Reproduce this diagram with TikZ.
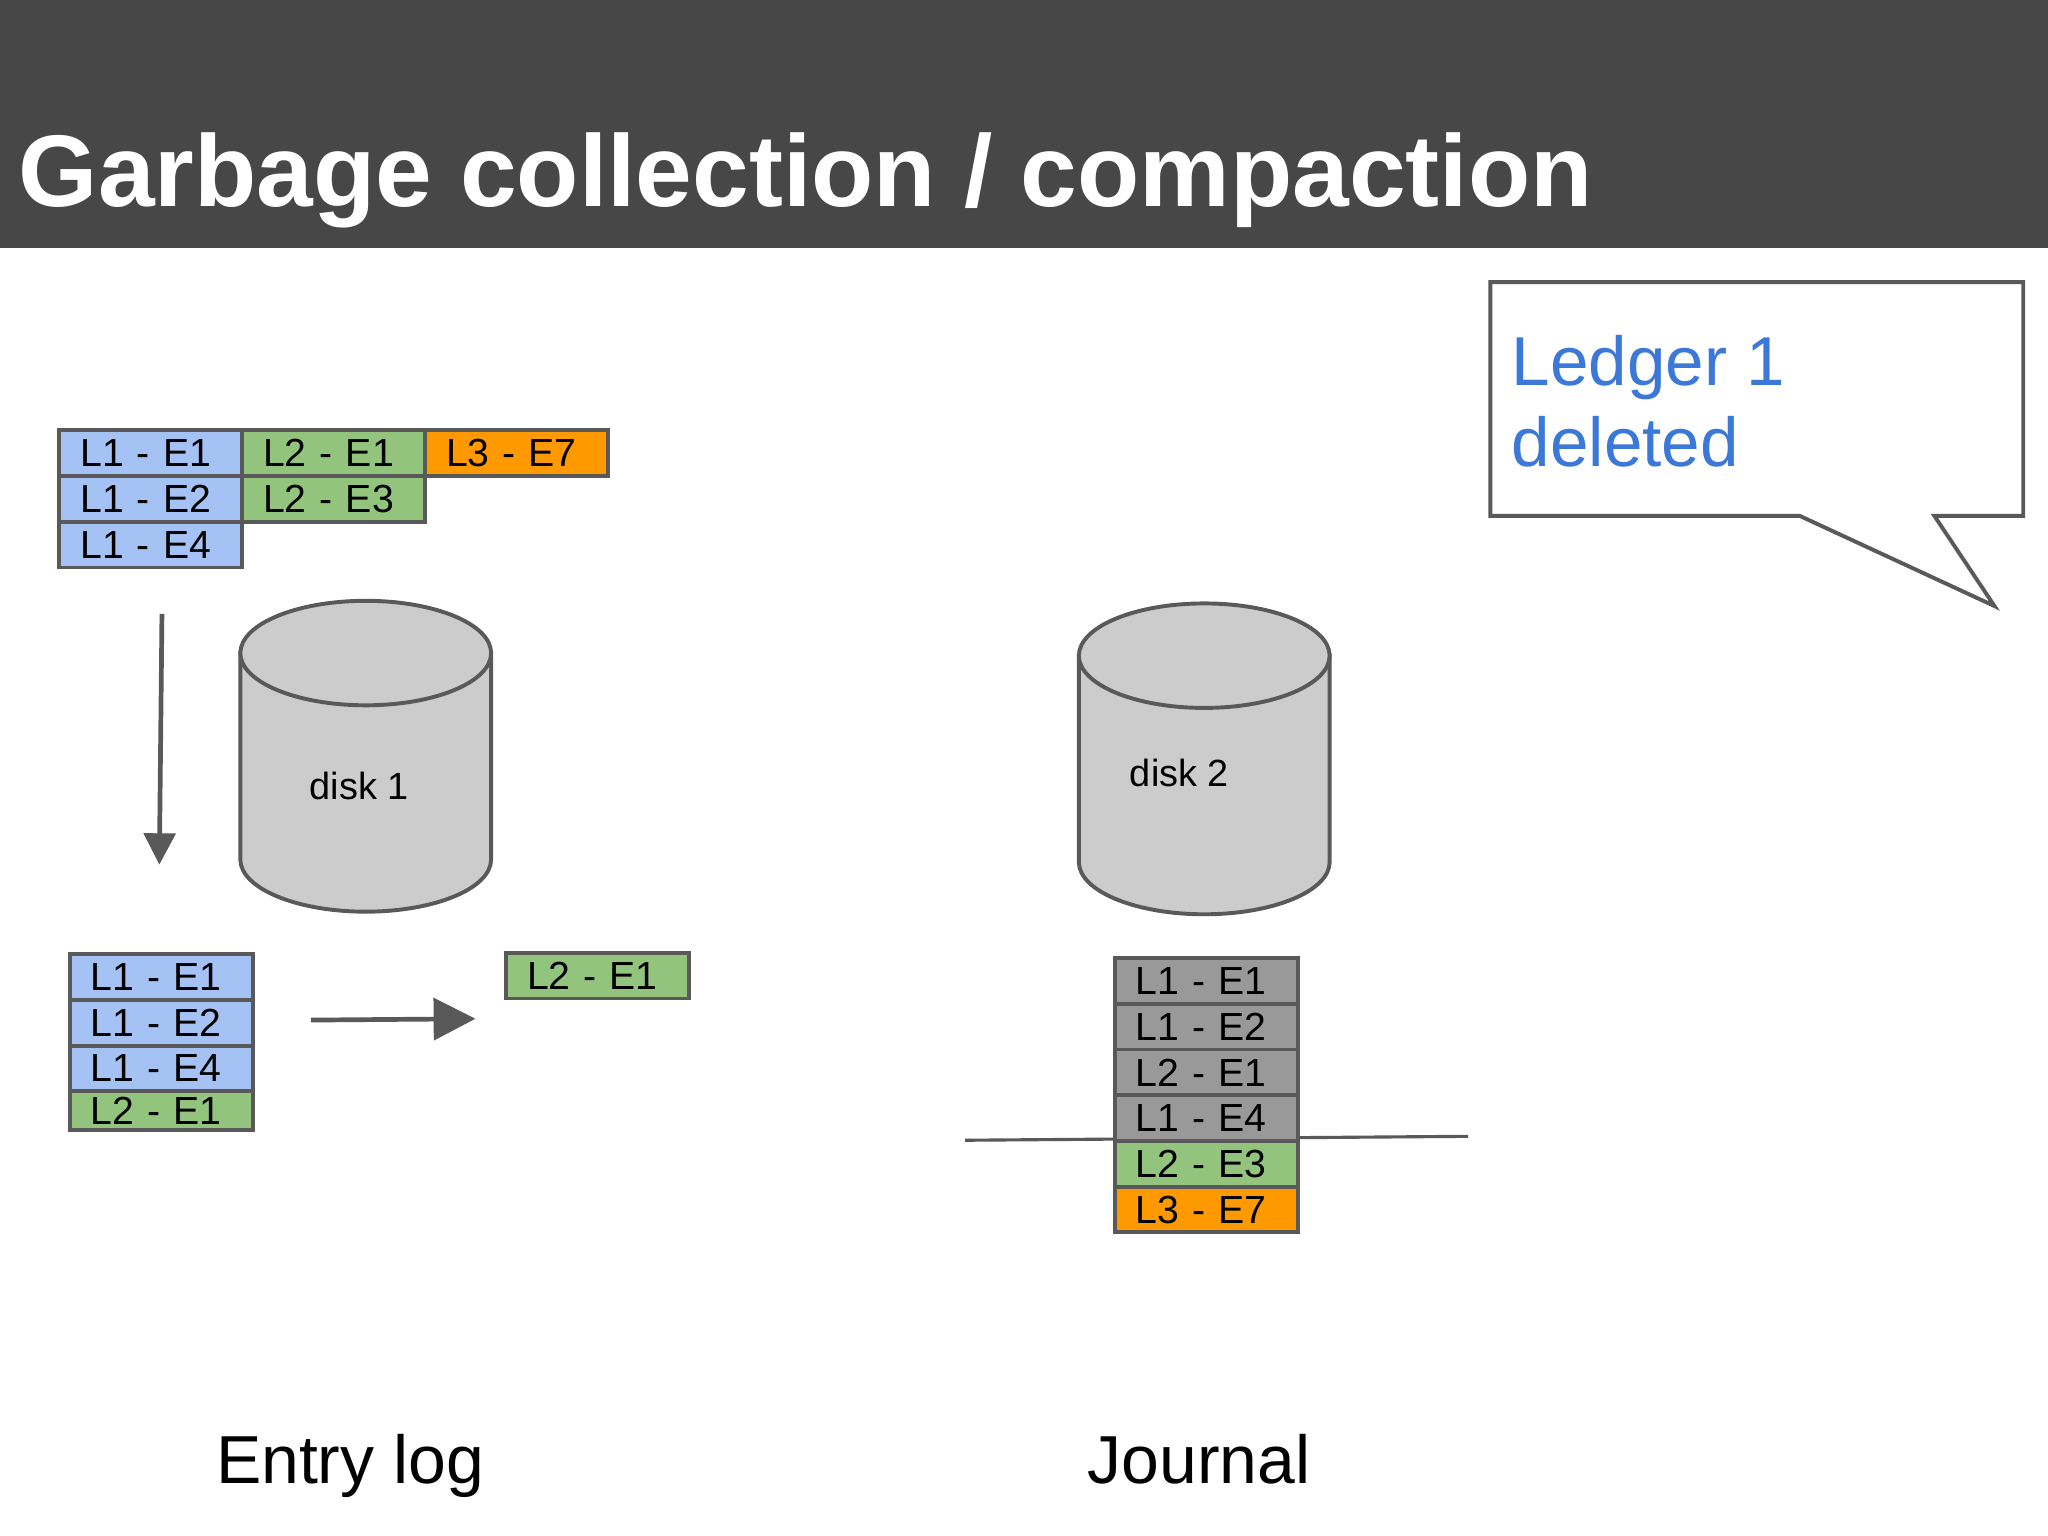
\documentclass[tikz,border=0pt]{standalone}
\usepackage{fontspec}
\setmainfont{Liberation Sans}
\usetikzlibrary{arrows.meta}
\definecolor{bl}{HTML}{A4C2F4}
\definecolor{gr}{HTML}{93C47D}
\definecolor{og}{HTML}{FF9900}
\definecolor{gy}{HTML}{999999}
\definecolor{ed}{HTML}{595959}
\definecolor{bar}{HTML}{474747}
\definecolor{lb}{HTML}{3C78D8}
\begin{document}
\begin{tikzpicture}[x=0.5pt,y=-0.5pt,
 cell/.style={draw=ed,line width=1.5pt,minimum width=70pt,minimum height=17.5pt,inner xsep=8pt,inner ysep=0pt,text width=54pt,align=left,font=\fontsize{15}{15}\selectfont,anchor=north west,text depth=0pt},
 arr/.style={draw=ed,line width=1.8pt,-{Triangle[length=14pt,width=14pt]}},
 cyl/.style={draw=ed,line width=1.5pt,fill=gray!40}]
\useasboundingbox (0,0) rectangle (1568,1176);
\fill[white] (0,0) rectangle (1568,1176);
\fill[bar] (0,0) rectangle (1568,190);
\node[anchor=base west,text=white,font=\fontsize{39}{39}\selectfont\bfseries,inner sep=0pt] (title) at (14,158) {Garbage collection / compaction};
% top cells
\node[cell,fill=bl] (a1) at (44,328) {L1 - E1};
\node[cell,fill=gr] (a2) at (184,328) {L2 - E1};
\node[cell,fill=og] (a3) at (324,328) {L3 - E7};
\node[cell,fill=bl] (b1) at (44,363) {L1 - E2};
\node[cell,fill=gr] (b2) at (184,363) {L2 - E3};
\node[cell,fill=bl] (c1) at (44,398) {L1 - E4};
% disks
\foreach \cx/\n/\lab/\lx/\ly/\yt in {280/d1/disk 1/275/602/500, 922/d2/disk 2/903/592/502}{
 \path[cyl] (\cx-96,\yt) -- (\cx-96,\yt+158) arc[start angle=180,end angle=0,x radius=96,y radius=40] -- (\cx+96,\yt) -- cycle;
 \draw[cyl] (\cx,\yt) ellipse[x radius=96,y radius=40];
 \node[font=\fontsize{14.5}{14.5}\selectfont] (\n) at (\lx,\ly) {\lab};
}
\coordinate (p1) at (124,470); \coordinate (p2) at (122,662);
\draw[arr,-{Triangle[length=12pt,width=12pt]}] (p1) -- (p2);
\coordinate (q1) at (238,781); \coordinate (q2) at (364,780);
\draw[arr,-{Triangle[length=16pt,width=16pt]}] (q1) -- (q2);
% bottom left
\node[cell,fill=bl] (e1) at (52,729) {L1 - E1};
\node[cell,fill=bl] (e2) at (52,764) {L1 - E2};
\node[cell,fill=bl] (e3) at (52,799) {L1 - E4};
\node[cell,fill=gr,minimum height=15pt] (e4) at (52,834) {L2 - E1};
\node[cell,fill=gr] (f1) at (386,728) {L2 - E1};
% journal
\coordinate (l1) at (739,873); \coordinate (l2) at (1124,870);
\draw[ed,line width=1.2pt] (l1) -- (l2);
\node[cell,fill=gy] (j1) at (852,732) {L1 - E1};
\node[cell,fill=gy] (j2) at (852,767) {L1 - E2};
\node[cell,fill=gy] (j3) at (852,802) {L2 - E1};
\node[cell,fill=gy] (j4) at (852,837) {L1 - E4};
\node[cell,fill=gr] (j5) at (852,872) {L2 - E3};
\node[cell,fill=og] (j6) at (852,907) {L3 - E7};
% callout
\draw[ed,line width=1.5pt,fill=white] (1141,216) -- (1549,216) -- (1549,395) -- (1481,395) -- (1527,464) -- (1378,395) -- (1141,395) -- cycle;
\node[anchor=base west,inner sep=0pt,text=lb,font=\fontsize{26.5}{31}\selectfont] (t1) at (1157,295) {Ledger 1};
\node[anchor=base west,inner sep=0pt,text=lb,font=\fontsize{26.5}{31}\selectfont] (t2) at (1157,357) {deleted};
\node[anchor=base,font=\fontsize{26}{26}\selectfont] (el) at (268,1136) {Entry log};
\node[anchor=base,font=\fontsize{26}{26}\selectfont] (jn) at (918,1136) {Journal};
\end{tikzpicture}
\end{document}
